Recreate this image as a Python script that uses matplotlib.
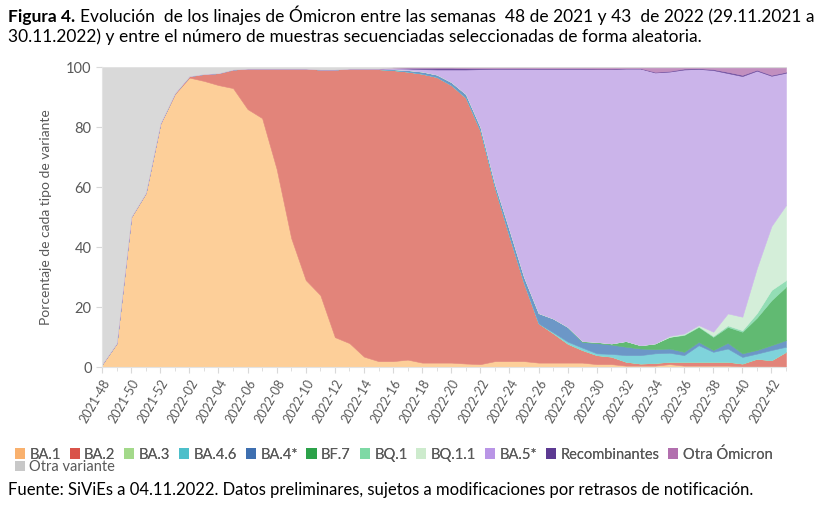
import numpy as np
import matplotlib
matplotlib.use("Agg")
from matplotlib import pyplot as plt
from matplotlib.patches import Patch

# semanas 2021-48 .. 2022-43
weeks = ["2021-%02d" % w for w in range(48, 53)] + ["2022-%02d" % w for w in range(1, 44)]

ba1 = [1, 8, 50, 58, 81, 91, 96.5, 95.4, 94, 93, 86, 83, 66, 43, 29, 24, 10, 8, 3.5, 2,
       2, 2.5, 1.5, 1.5, 1.5, 1.2, 1, 2, 2, 2, 1.5, 1.5, 1.5, 1.5, 1, 1, 0.5, 0.5, 0.5, 1,
       0.5, 0.5, 0.5, 0.5, 0.3, 0.3, 0.3, 0.2]
ba2 = [0, 0, 0.1, 0.1, 0.2, 0.3, 0.5, 2.3, 4, 6.2, 13.5, 16.5, 33.5, 56.5, 70.5, 75.2, 89.2, 91.5, 96, 97.3,
       97, 96, 96.3, 95.2, 92.5, 88.6, 77.8, 57.8, 41.5, 26, 13.1, 9.8, 6.3, 4.2, 3, 2.5, 1.3, 0.7, 0.9, 0.8,
       1.3, 1.3, 1.3, 1.3, 0.9, 2.5, 2, 4.9]
ba3 = [0] * 48
ba46 = [0] * 31 + [0.3, 0.7, 0.8, 0.6, 0.9, 2.2, 2.8, 3.2, 3, 2.2, 5.5, 3.3, 4.4, 2.2, 1.7, 3.4, 1.7]
ba4 = [0] * 20 + [0.3, 0.5, 0.7, 0.8, 1, 1.2, 1.2, 1.2, 2.2, 2, 3.4, 4.6, 4.9, 1.9, 3.4, 3.1, 2.8, 2.2, 1.4, 1.4,
                  1.1, 1.1, 0.6, 1.9, 1.2, 1.2, 1.6, 2.2]
bf7 = [0] * 33 + [0.3, 0.4, 0.4, 1.9, 1.1, 1.9, 3.9, 5.6, 5, 4.4, 5.3, 7.2, 10.8, 15, 17.8]
bq1 = [0] * 40 + [0.2, 0.2, 0.3, 0.5, 0.5, 1.5, 3.4, 2.2]
bq11 = [0] * 39 + [0.3, 0.3, 0.4, 1.4, 4, 4.5, 15, 21.3, 25]
ba5 = [0] * 19 + [0.2, 0.3, 0.5, 0.8, 1.7, 4.2, 8.2, 19.3, 38.4, 53.7, 69.4, 81.4, 83.2, 86, 90.7, 91, 91.5,
                  90.8, 92.2, 90.3, 88.1, 88, 85.4, 87.2, 80.1, 80.2, 65.8, 50.1, 44.1]
recomb = [0] * 20 + [0.2, 0.3, 0.5, 0.6, 0.6, 0.5, 0.4, 0.3, 0.3, 0.3, 0.2, 0.2, 0.2, 0.2, 0.1, 0.1, 0.1, 0.1,
                     0.2, 0.2, 0.3, 0.2, 0.3, 0.4, 0.4, 0.3, 0.3, 0.3]
otra_om = [0] * 21 + [0.1, 0.1, 0.1, 0.1, 0.2, 0.2, 0.2, 0.2, 0.2, 0.3, 0.3, 0.3, 0.3, 0.4, 0.4, 0.3, 0.3, 1.5,
                      1.2, 0.4, 0.3, 0.6, 1.5, 2.5, 0.8, 2.5, 1.5]
otra_var = [99, 92, 49.9, 41.9, 18.8, 8.7, 3, 2.3, 2, 0.8, 0.5, 0.5, 0.5, 0.5, 0.5, 0.8, 0.8, 0.5, 0.5, 0.5,
            0.2, 0.1, 0.1, 0.1, 0.1, 0.1, 0.1, 0.1, 0.1, 0.1, 0.1, 0.1, 0.1, 0.1, 0.1, 0.1, 0.1, 0.1, 0.1, 0.1,
            0.1, 0.1, 0.1, 0.1, 0.1, 0.1, 0.1, 0.1]

labels = ["BA.1", "BA.2", "BA.3", "BA.4.6", "BA.4*", "BF.7", "BQ.1", "BQ.1.1", "BA.5*",
          "Recombinantes", "Otra Ómicron", "Otra variante"]
fills = ["#FDCF99", "#E2847A", "#B9E0A5", "#7FD3DB", "#6C97C7", "#61BA72", "#93DDB5", "#D4EED9",
         "#CBB4EA", "#6E4E9E", "#C28FBF", "#D9D9D9"]
marks = ["#F9B16E", "#D9534A", "#A3D98A", "#4DBFCA", "#3E6FB0", "#2CA24A", "#7ED9A5", "#CDEBCD",
         "#B995E6", "#5C3A92", "#B26FAE", "#C8C8C8"]

data = np.array([ba1, ba2, ba3, ba46, ba4, bf7, bq1, bq11, ba5, recomb, otra_om, otra_var], dtype=float)
data = data / data.sum(axis=0) * 100

fnt = ["Liberation Sans Narrow", "Lato", "DejaVu Sans"]
gray = "#595959"

fig = plt.figure(figsize=(8.23, 5.2), dpi=100)
ax = fig.add_axes([0.124, 0.294, 0.831, 0.577])
x = np.arange(len(weeks))
polys = ax.stackplot(x, data, colors=fills, linewidth=0.4)
for p, c in zip(polys, fills):
    p.set_edgecolor(c)

ax.set_xlim(0, len(weeks) - 1)
ax.set_ylim(0, 100)
ax.set_xticks(x[::2])
ax.set_xticklabels(weeks[::2], rotation=60, ha="right", rotation_mode="anchor",
                   family=fnt, fontsize=9, color=gray)
ax.set_xticks(x, minor=True)
ax.set_yticks([0, 20, 40, 60, 80, 100])
ax.set_yticklabels(["0", "20", "40", "60", "80", "100"], family=fnt, fontsize=10.5, color=gray)
ax.set_ylabel("Porcentaje de cada tipo de variante", family=fnt, fontsize=10, color=gray, labelpad=10)
ax.tick_params(axis="both", which="both", color="#D9D9D9", length=4)
ax.tick_params(axis="x", which="minor", length=3)
for s in ["top", "right"]:
    ax.spines[s].set_visible(False)
for s in ["left", "bottom"]:
    ax.spines[s].set_color("#E3E3E3")

# titulo con "Figura 4." en negrita
t1 = fig.text(0.010, 0.958, "Figura 4.", family=fnt, fontsize=12.5, weight="bold", va="baseline")
fig.canvas.draw()
bb = t1.get_window_extent()
fig.text((bb.x1 + 5) / fig.bbox.width, 0.958,
         "Evolución  de los linajes de Ómicron entre las semanas  48 de 2021 y 43  de 2022 (29.11.2021 a",
         family=fnt, fontsize=12.5, va="baseline")
fig.text(0.010, 0.919,
         "30.11.2022) y entre el número de muestras secuenciadas seleccionadas de forma aleatoria.",
         family=fnt, fontsize=12.5, va="baseline")

h1 = [Patch(facecolor=c, edgecolor="none") for c in marks[:11]]
leg1 = fig.legend(h1, labels[:11], loc="upper left", bbox_to_anchor=(0.018, 0.140), ncol=11, frameon=False,
                  handlelength=0.7, handleheight=0.7, handletextpad=0.3, columnspacing=0.6,
                  borderaxespad=0, borderpad=0,
                  prop={"family": fnt, "size": 10.5})
for t in leg1.get_texts():
    t.set_color(gray)
fig.add_artist(leg1)
leg2 = fig.legend([Patch(facecolor=marks[11], edgecolor="none")], labels[11:], loc="upper left",
                  bbox_to_anchor=(0.018, 0.115), frameon=False, handlelength=0.7, handleheight=0.7,
                  handletextpad=0.3, borderaxespad=0, borderpad=0, prop={"family": fnt, "size": 10.5})
for t in leg2.get_texts():
    t.set_color(gray)

fig.text(0.010, 0.048,
         "Fuente: SiViEs a 04.11.2022. Datos preliminares, sujetos a modificaciones por retrasos de notificación.",
         family=fnt, fontsize=12, va="baseline")

fig.savefig("out.png", dpi=100)
